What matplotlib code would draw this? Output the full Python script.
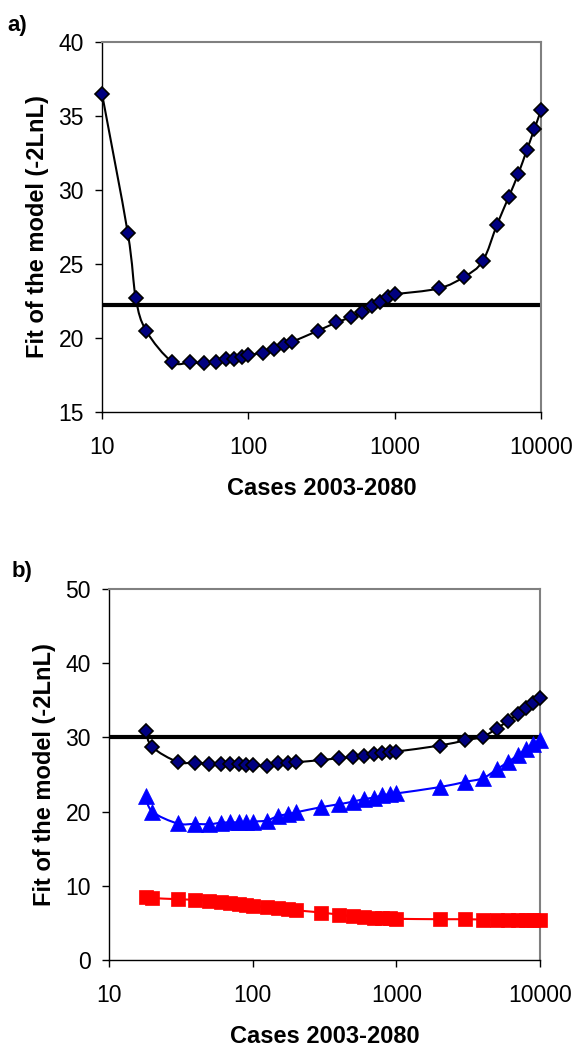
import numpy as np
import matplotlib
matplotlib.use('Agg')
import matplotlib.pyplot as plt
from matplotlib.path import Path
from matplotlib.patches import PathPatch

plt.rcParams['font.family'] = ['Liberation Sans', 'DejaVu Sans']

# panel a data
cases_a = [10, 15, 17, 20, 30, 40, 50, 60, 70, 80, 90, 100, 125, 150, 175, 200,
           300, 400, 500, 600, 700, 800, 900, 1000,
           2000, 3000, 4000, 5000, 6000, 7000, 8000, 9000, 10000]
fit_a = [36.5, 27.1, 22.7, 20.5, 18.4, 18.35, 18.3, 18.35, 18.55, 18.6, 18.7, 18.85,
         19.0, 19.25, 19.55, 19.75,
         20.5, 21.05, 21.4, 21.75, 22.15, 22.45, 22.75, 22.95,
         23.35, 24.15, 25.2, 27.65, 29.5, 31.1, 32.7, 34.1, 35.4]
threshold_a = 22.2

# panel b data
cases_b = [18, 20, 30, 40, 50, 60, 70, 80, 90, 100, 125, 150, 175, 200,
           300, 400, 500, 600, 700, 800, 900, 1000,
           2000, 3000, 4000, 5000, 6000, 7000, 8000, 9000, 10000]
fit_b_total = [30.9, 28.7, 26.7, 26.6, 26.45, 26.45, 26.4, 26.35, 26.3, 26.25,
               26.15, 26.55, 26.6, 26.65,
               26.95, 27.2, 27.35, 27.55, 27.75, 27.95, 28.05, 28.1,
               28.9, 29.6, 30.1, 31.2, 32.25, 33.15, 34.0, 34.7, 35.35]
fit_b_tri = [22.1, 20.0, 18.4, 18.35, 18.3, 18.5, 18.55, 18.55, 18.55, 18.65,
             18.8, 19.4, 19.65, 19.9,
             20.6, 21.0, 21.35, 21.7, 21.9, 22.2, 22.35, 22.45,
             23.3, 24.0, 24.5, 25.7, 26.7, 27.6, 28.45, 29.05, 29.65]
fit_b_sq = [8.5, 8.35, 8.2, 8.1, 7.95, 7.8, 7.65, 7.5, 7.4, 7.3,
            7.15, 7.0, 6.85, 6.7,
            6.4, 6.1, 5.9, 5.8, 5.7, 5.65, 5.6, 5.55,
            5.5, 5.5, 5.45, 5.45, 5.45, 5.45, 5.45, 5.45, 5.4]
threshold_b = 30.0


def smooth_line(ax, xs, ys, color, lw=1.5):
    # Excel-like smoothed line: cubic bezier through the points (log x space)
    lx = np.log10(xs)
    y = np.asarray(ys, dtype=float)
    n = len(lx)
    verts = [(xs[0], y[0])]
    codes = [Path.MOVETO]
    for i in range(n - 1):
        i0 = max(i - 1, 0)
        i3 = min(i + 2, n - 1)
        c1 = (lx[i] + (lx[i + 1] - lx[i0]) / 6, y[i] + (y[i + 1] - y[i0]) / 6)
        c2 = (lx[i + 1] - (lx[i3] - lx[i]) / 6, y[i + 1] - (y[i3] - y[i]) / 6)
        verts += [(10 ** c1[0], c1[1]), (10 ** c2[0], c2[1]), (xs[i + 1], y[i + 1])]
        codes += [Path.CURVE4] * 3
    patch = PathPatch(Path(verts, codes), fill=False, edgecolor=color, lw=lw,
                      transform=ax.transData, zorder=2)
    ax.add_patch(patch)


def style_axes(ax, ylim, yticks):
    ax.set_xscale('log')
    ax.set_xlim(10, 10000)
    ax.set_ylim(*ylim)
    ax.set_xticks([10, 100, 1000, 10000])
    ax.set_xticklabels(['10', '100', '1000', '10000'])
    ax.xaxis.set_minor_locator(matplotlib.ticker.NullLocator())
    ax.set_yticks(yticks)
    ax.tick_params(axis='both', direction='out', length=5, width=1, labelsize=16.5,
                   color='black')
    ax.tick_params(axis='x', pad=12)
    ax.tick_params(axis='y', pad=8)
    for s in ['left', 'bottom']:
        ax.spines[s].set_color('black')
        ax.spines[s].set_linewidth(1)
    for s in ['top', 'right']:
        ax.spines[s].set_color('#808080')
        ax.spines[s].set_linewidth(1.5)
    ax.set_xlabel('Cases 2003-2080', fontsize=17, fontweight='bold', labelpad=13)
    ax.set_ylabel('Fit of the model (-2LnL)', fontsize=17, fontweight='bold', labelpad=7)


fig = plt.figure(figsize=(5.77, 10.46), dpi=100)

# panel a
ax1 = fig.add_axes([0.1768, 0.6061, 0.7608, 0.3537])
style_axes(ax1, (15, 40), [15, 20, 25, 30, 35, 40])
ax1.axhline(threshold_a, color='black', lw=3, zorder=1)
smooth_line(ax1, cases_a, fit_a, 'black')
ax1.plot(cases_a, fit_a, ls='none', marker='D', ms=7.5, mfc='#000080', mec='black',
         mew=1.2, clip_on=False, zorder=3)
fig.text(0.012, 0.970, 'a)', fontsize=16, fontweight='bold')

# panel b
ax2 = fig.add_axes([0.1889, 0.0822, 0.747, 0.3547])
style_axes(ax2, (0, 50), [0, 10, 20, 30, 40, 50])
ax2.axhline(threshold_b, color='black', lw=3, zorder=1)
smooth_line(ax2, cases_b, fit_b_total, 'black')
smooth_line(ax2, cases_b, fit_b_tri, '#0000FF')
smooth_line(ax2, cases_b, fit_b_sq, '#FF0000')
ax2.plot(cases_b, fit_b_total, ls='none', marker='D', ms=7.5, mfc='#000080', mec='black',
         mew=1.2, clip_on=False, zorder=3)
ax2.plot(cases_b, fit_b_tri, ls='none', marker='^', ms=12, mfc='#0000FF', mec='#0000FF',
         mew=0.5, clip_on=False, zorder=3)
ax2.plot(cases_b, fit_b_sq, ls='none', marker='s', ms=10, mfc='#FF0000', mec='#FF0000',
         mew=0.5, clip_on=False, zorder=3)
fig.text(0.020, 0.448, 'b)', fontsize=16, fontweight='bold')

fig.savefig('out.png', dpi=100)
